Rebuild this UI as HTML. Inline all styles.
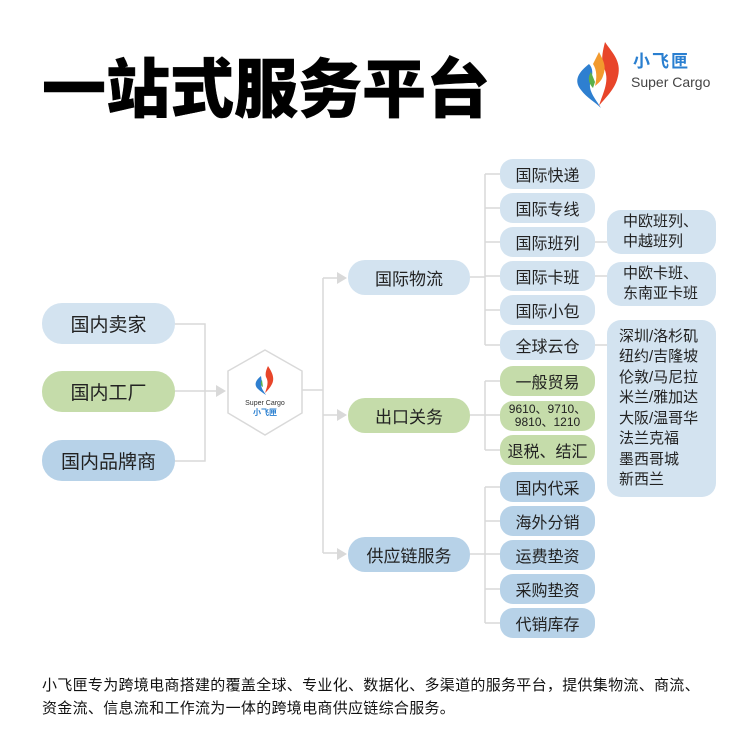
<!DOCTYPE html>
<html><head><meta charset="utf-8"><style>
body{margin:0;width:745px;height:750px;background:#fff;position:relative;overflow:hidden;font-family:"Liberation Sans","Noto Sans CJK SC",sans-serif;color:#222}
.n{position:absolute;display:flex;align-items:center;justify-content:center;text-align:center;white-space:nowrap}
.lb{background:#d3e3f0}.g{background:#c5dcaa}.db{background:#b7d2e8}
.l{left:42px;width:133px;height:41px;border-radius:20px;font-size:19px}
.m{left:348px;width:122px;height:35px;border-radius:17px;font-size:17px}
.c{left:500px;width:95px;height:30px;border-radius:13px;font-size:16px}
.t{left:607px;width:109px;border-radius:14px;font-size:15px;line-height:20px}
</style></head><body>
<div style="position:absolute;left:42px;top:50px;font-size:64px;font-weight:900;letter-spacing:0px;line-height:80px;color:#000;-webkit-text-stroke:0.5px #000">一站式服务平台</div>
<svg style="position:absolute;left:0;top:0" width="745" height="750">
<g transform="translate(573,36)">
<path d="M32 6 C40 18 50 26 44 44 C40 56 30 64 26 70 C30 56 38 44 30 30 C28 22 30 14 32 6Z" fill="#e8452a"/>
<path d="M26 16 C30 24 34 30 30 40 C28 46 24 48 22 50 C24 42 24 34 20 28Z" fill="#f29a2e"/>
<path d="M16 28 C6 36 0 44 8 54 C14 62 22 66 28 72 C22 62 14 54 18 44 C20 38 20 32 16 28Z" fill="#2e7fd0"/>
<path d="M18 36 C14 42 16 48 20 52 L22 46Z" fill="#5ab04a"/>
</g>
<text x="633" y="67" font-size="17" font-weight="bold" fill="#2a7fd0" font-family="Liberation Sans,Noto Sans CJK SC,sans-serif" letter-spacing="2">小飞匣</text>
<text x="631" y="87" font-size="14" fill="#444" font-family="Liberation Sans,sans-serif">Super Cargo</text>
<g stroke="#d9d9d9" stroke-width="1.5" fill="none">
<path d="M175 324H205V461H175M175 391H216"/>
<path d="M302 390H323M323 278V553M323 278H338M323 415H338M323 553H338"/>
<path d="M470 277H485M485 174V345M485 174H500M485 208H500M485 242H500M485 276H500M485 310H500M485 345H500"/>
<path d="M470 415H500M485 381V450M485 381H500M485 450H500"/>
<path d="M470 554H500M485 487V623M485 487H500M485 521H500M485 589H500M485 623H500"/>
<path d="M595 242H607M595 276H607M595 345H607"/>
<path d="M265 350L302 371V413L265 435L228 413V371Z" fill="#fff"/>
</g>
<g fill="#d9d9d9">
<path d="M216 385L226 391L216 397Z"/>
<path d="M337 272L347 278L337 284Z"/><path d="M337 409L347 415L337 421Z"/><path d="M337 548L347 554L337 560Z"/>
</g>
<g transform="translate(253,366)">
<path d="M15 0 C19 6 22 12 19 18 C17 22 14 25 12 27 C14 21 16 16 13 11 C12 8 13 4 15 0Z" fill="#e8452a"/>
<path d="M8 10 C3 14 1 18 4 22 C7 25 10 27 13 29 C10 24 7 21 9 17Z" fill="#2e7fd0"/>
<path d="M9 14 C7 17 8 20 10 21Z" fill="#5ab04a"/>
</g>
<text x="265" y="405" font-size="7" text-anchor="middle" fill="#333" font-family="Liberation Sans,sans-serif">Super Cargo</text>
<text x="265" y="415" font-size="8" font-weight="bold" text-anchor="middle" fill="#2a7fd0" font-family="Liberation Sans,Noto Sans CJK SC,sans-serif">小飞匣</text>
</svg>
<div class="n l lb" style="top:303px">国内卖家</div>
<div class="n l g" style="top:371px">国内工厂</div>
<div class="n l db" style="top:440px">国内品牌商</div>
<div class="n m lb" style="top:260px">国际物流</div>
<div class="n m g" style="top:398px">出口关务</div>
<div class="n m db" style="top:537px">供应链服务</div>
<div class="n c lb" style="top:159px">国际快递</div>
<div class="n c lb" style="top:193px">国际专线</div>
<div class="n c lb" style="top:227px">国际班列</div>
<div class="n c lb" style="top:261px">国际卡班</div>
<div class="n c lb" style="top:295px">国际小包</div>
<div class="n c lb" style="top:330px">全球云仓</div>
<div class="n c g" style="top:366px">一般贸易</div>
<div class="n c g" style="top:401px;font-size:12px;line-height:13px">9610、9710、<br>9810、1210</div>
<div class="n c g" style="top:435px">退税、结汇</div>
<div class="n c db" style="top:472px">国内代采</div>
<div class="n c db" style="top:506px">海外分销</div>
<div class="n c db" style="top:540px">运费垫资</div>
<div class="n c db" style="top:574px">采购垫资</div>
<div class="n c db" style="top:608px">代销库存</div>
<div class="n t lb" style="top:210px;height:44px;text-align:left;justify-content:flex-start;padding-left:16px;box-sizing:border-box">中欧班列、<br>中越班列</div>
<div class="n t lb" style="top:262px;height:44px;text-align:left;justify-content:flex-start;padding-left:16px;box-sizing:border-box">中欧卡班、<br>东南亚卡班</div>
<div class="n t lb" style="top:320px;height:177px;line-height:20.5px;text-align:left;justify-content:flex-start;padding-left:12px;box-sizing:border-box">深圳/洛杉矶<br>纽约/吉隆坡<br>伦敦/马尼拉<br>米兰/雅加达<br>大阪/温哥华<br>法兰克福<br>墨西哥城<br>新西兰</div>
<div style="position:absolute;left:42px;top:674px;font-size:15px;line-height:23px;letter-spacing:0.3px;white-space:nowrap;color:#111">小飞匣专为跨境电商搭建的覆盖全球、专业化、数据化、多渠道的服务平台，提供集物流、商流、<br>资金流、信息流和工作流为一体的跨境电商供应链综合服务。</div>
</body></html>
